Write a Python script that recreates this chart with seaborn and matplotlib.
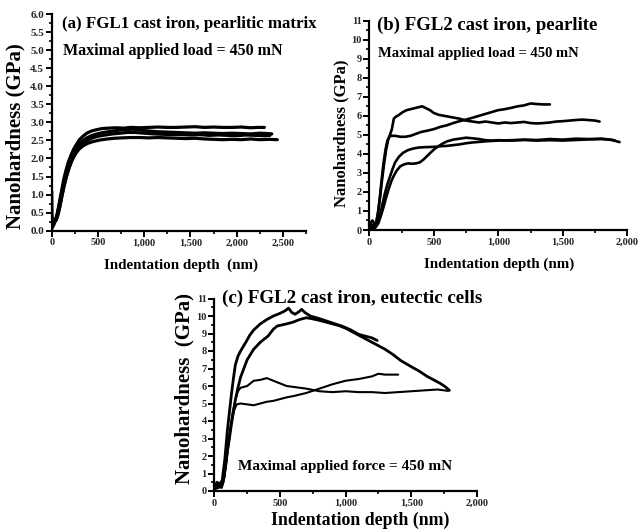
import matplotlib
matplotlib.use("Agg")
import matplotlib.pyplot as plt
import matplotlib.ticker as mticker
import seaborn as sns
import pandas as pd

# ---------------- data ----------------
# Panel (a): FGL1 cast iron, pearlitic matrix
a1_x = [0, 20, 40, 55, 70, 90, 110, 130, 155, 180, 210, 240, 270, 300, 340, 380, 430, 490, 550, 620, 700, 780, 860, 950, 1050, 1150, 1250, 1350, 1450, 1550, 1650, 1750, 1850, 1950, 2050, 2150, 2230, 2300]
a1_y = [0.05, 0.15, 0.3, 0.42, 0.6, 0.88, 1.15, 1.42, 1.68, 1.9, 2.1, 2.27, 2.4, 2.52, 2.62, 2.7, 2.76, 2.8, 2.83, 2.84, 2.85, 2.84, 2.86, 2.85, 2.86, 2.87, 2.86, 2.86, 2.87, 2.88, 2.86, 2.87, 2.86, 2.86, 2.87, 2.85, 2.86, 2.86]
a2_x = [0, 20, 40, 60, 80, 100, 125, 150, 180, 210, 240, 270, 300, 340, 380, 430, 490, 560, 640, 720, 800, 880, 950, 1050, 1150, 1250, 1350, 1450, 1550, 1650, 1750, 1850, 1950, 2050, 2150, 2250, 2330, 2380]
a2_y = [0.1, 0.18, 0.28, 0.45, 0.7, 0.95, 1.25, 1.52, 1.78, 2.0, 2.17, 2.3, 2.4, 2.5, 2.57, 2.63, 2.68, 2.72, 2.75, 2.78, 2.8, 2.81, 2.79, 2.76, 2.74, 2.73, 2.72, 2.71, 2.7, 2.71, 2.7, 2.69, 2.7, 2.69, 2.68, 2.7, 2.69, 2.68]
a3_x = [0, 25, 50, 70, 90, 110, 135, 160, 190, 220, 250, 280, 320, 360, 400, 450, 510, 580, 660, 740, 820, 900, 1000, 1100, 1200, 1300, 1400, 1500, 1600, 1700, 1800, 1900, 2000, 2100, 2200, 2300, 2360]
a3_y = [0.15, 0.22, 0.3, 0.45, 0.68, 0.95, 1.25, 1.5, 1.75, 1.95, 2.1, 2.22, 2.35, 2.45, 2.52, 2.58, 2.62, 2.65, 2.68, 2.7, 2.72, 2.72, 2.7, 2.68, 2.67, 2.66, 2.66, 2.65, 2.66, 2.64, 2.65, 2.64, 2.63, 2.65, 2.64, 2.63, 2.64]
a4_x = [0, 3, 10, 25, 45, 65, 85, 105, 125, 150, 175, 200, 230, 260, 300, 340, 390, 450, 520, 600, 680, 760, 850, 950, 1050, 1150, 1250, 1350, 1450, 1550, 1650, 1750, 1850, 1950, 2050, 2150, 2250, 2350, 2440]
a4_y = [1.1, 0.5, 0.15, 0.2, 0.3, 0.45, 0.65, 0.9, 1.15, 1.42, 1.65, 1.85, 2.02, 2.15, 2.27, 2.35, 2.42, 2.47, 2.51, 2.54, 2.56, 2.57, 2.58, 2.58, 2.57, 2.58, 2.57, 2.56, 2.55, 2.56, 2.54, 2.53, 2.52, 2.53, 2.52, 2.54, 2.52, 2.53, 2.52]

# Panel (b): FGL2 cast iron, pearlite
b1_x = [0, 10, 25, 40, 55, 70, 85, 100, 115, 130, 145, 160, 175, 190, 205, 230, 260, 290, 320, 350, 380, 410, 440, 470, 500, 540, 580, 620, 660, 700, 750, 800, 850, 900, 950, 1000, 1050, 1100, 1150, 1200, 1250, 1300, 1350, 1400, 1450, 1500, 1550, 1600, 1650, 1700, 1750, 1785]
b1_y = [0.1, 0.4, 0.5, 0.3, 0.4, 1.0, 1.8, 2.7, 3.5, 4.2, 4.7, 5.0, 5.3, 5.85, 5.95, 6.05, 6.2, 6.3, 6.35, 6.4, 6.45, 6.5, 6.4, 6.3, 6.15, 6.05, 6.0, 5.95, 5.9, 5.85, 5.75, 5.7, 5.65, 5.7, 5.65, 5.6, 5.65, 5.62, 5.65, 5.68, 5.62, 5.6, 5.62, 5.65, 5.7, 5.72, 5.75, 5.78, 5.8, 5.78, 5.75, 5.7]
b2_x = [0, 15, 30, 50, 65, 80, 95, 110, 125, 140, 155, 170, 200, 240, 280, 320, 360, 400, 450, 500, 550, 600, 650, 700, 750, 800, 850, 900, 950, 1000, 1050, 1100, 1150, 1200, 1250, 1300, 1350, 1400]
b2_y = [0.05, 0.3, 0.2, 0.3, 0.8, 1.6, 2.6, 3.5, 4.2, 4.7, 4.9, 4.95, 4.95, 4.9, 4.9, 4.95, 5.05, 5.15, 5.22, 5.3, 5.42, 5.5, 5.62, 5.72, 5.8, 5.9, 6.0, 6.1, 6.2, 6.3, 6.35, 6.42, 6.5, 6.55, 6.65, 6.62, 6.6, 6.6]
b3_x = [0, 20, 40, 60, 80, 100, 120, 140, 160, 180, 200, 230, 260, 300, 340, 380, 420, 460, 500, 550, 600, 650, 700, 750, 800, 850, 900, 1000, 1100, 1200, 1300, 1400, 1500, 1600, 1700, 1800, 1870, 1940]
b3_y = [0.1, 0.2, 0.1, 0.3, 0.7, 1.3, 1.9, 2.4, 2.8, 3.2, 3.55, 3.85, 4.05, 4.2, 4.28, 4.33, 4.35, 4.36, 4.37, 4.4, 4.42, 4.46, 4.5, 4.56, 4.6, 4.63, 4.66, 4.7, 4.72, 4.75, 4.73, 4.78, 4.75, 4.8, 4.78, 4.8, 4.75, 4.62]
b4_x = [0, 25, 50, 70, 90, 110, 130, 150, 170, 190, 210, 240, 270, 300, 330, 360, 390, 420, 450, 480, 510, 540, 570, 600, 650, 700, 750, 800, 850, 900, 950, 1000, 1100, 1200, 1300, 1400, 1500, 1600, 1700, 1800, 1900]
b4_y = [0.05, 0.1, 0.15, 0.35, 0.75, 1.2, 1.7, 2.15, 2.55, 2.85, 3.1, 3.35, 3.45, 3.5, 3.48, 3.5, 3.55, 3.7, 3.9, 4.1, 4.28, 4.42, 4.55, 4.65, 4.75, 4.8, 4.85, 4.82, 4.78, 4.72, 4.7, 4.72, 4.7, 4.73, 4.7, 4.72, 4.7, 4.73, 4.76, 4.78, 4.72]

# Panel (c): FGL2 cast iron, eutectic cells
c1_x = [0, 20, 40, 60, 80, 100, 115, 130, 145, 160, 180, 200, 240, 270, 300, 350, 400, 450, 500, 540, 565, 590, 615, 645, 665, 690, 730, 800, 860, 920, 980, 1040, 1100, 1150, 1200, 1240]
c1_y = [0.2, 0.5, 0.4, 0.6, 1.8, 3.5, 4.5, 5.5, 6.4, 7.2, 7.7, 8.0, 8.5, 8.9, 9.2, 9.55, 9.8, 10.0, 10.15, 10.3, 10.45, 10.2, 10.1, 10.25, 10.38, 10.2, 10.0, 9.85, 9.7, 9.55, 9.4, 9.2, 8.95, 8.85, 8.75, 8.6]
c2_x = [0, 30, 55, 75, 100, 115, 130, 145, 160, 180, 200, 225, 250, 300, 350, 410, 450, 480, 550, 600, 650, 700, 740, 800, 850, 900, 950, 1000, 1050, 1100, 1150, 1200, 1250, 1300, 1360, 1420, 1500, 1560, 1620, 1670, 1720, 1760, 1790]
c2_y = [0.1, 0.3, 0.2, 0.8, 2.3, 3.0, 3.8, 4.5, 5.2, 5.9, 6.5, 7.0, 7.5, 8.1, 8.5, 8.86, 9.25, 9.43, 9.55, 9.65, 9.8, 9.9, 9.85, 9.75, 9.65, 9.55, 9.45, 9.3, 9.1, 8.9, 8.7, 8.5, 8.3, 8.1, 7.8, 7.45, 7.1, 6.85, 6.55, 6.35, 6.15, 5.95, 5.75]
c3_x = [0, 30, 60, 80, 100, 120, 140, 160, 180, 200, 250, 300, 350, 400, 450, 500, 550, 600, 700, 800, 900, 1000, 1100, 1200, 1300, 1400, 1500, 1600, 1700, 1780]
c3_y = [0.1, 0.4, 0.3, 1.2, 2.3, 3.5, 4.5, 5.2, 5.7, 5.9, 6.0, 6.3, 6.35, 6.45, 6.3, 6.15, 6.0, 5.95, 5.85, 5.7, 5.65, 5.7, 5.65, 5.65, 5.6, 5.65, 5.7, 5.75, 5.8, 5.72]
c4_x = [0, 40, 70, 90, 110, 130, 150, 170, 200, 250, 300, 350, 400, 450, 500, 550, 600, 700, 800, 900, 1000, 1100, 1200, 1250, 1300, 1400]
c4_y = [0.1, 0.2, 0.5, 1.5, 2.8, 3.9, 4.6, 4.95, 5.0, 4.95, 4.9, 5.0, 5.1, 5.15, 5.25, 5.35, 5.42, 5.6, 5.85, 6.1, 6.3, 6.4, 6.55, 6.7, 6.65, 6.65]

a_xticks = [0, 500, 1000, 1500, 2000, 2500]
a_yticks = [0.0, 0.5, 1.0, 1.5, 2.0, 2.5, 3.0, 3.5, 4.0, 4.5, 5.0, 5.5, 6.0]
bc_xticks = [0, 500, 1000, 1500, 2000]
bc_yticks = [0, 1, 2, 3, 4, 5, 6, 7, 8, 9, 10, 11]

titles = ["(a) FGL1 cast iron, pearlitic matrix",
          "(b) FGL2 cast iron, pearlite",
          "(c) FGL2 cast iron, eutectic cells"]
subtitles = ["Maximal applied load = 450 mN",
             "Maximal applied load = 450 mN",
             "Maximal applied force = 450 mN"]


def to_frame(curves):
    rows = []
    for i, (xs, ys) in enumerate(curves):
        for x, y in zip(xs, ys):
            rows.append({"depth": x, "hardness": y, "curve": i})
    return pd.DataFrame(rows)


df_a = to_frame([(a1_x, a1_y), (a2_x, a2_y), (a3_x, a3_y), (a4_x, a4_y)])
df_b = to_frame([(b1_x, b1_y), (b2_x, b2_y), (b3_x, b3_y), (b4_x, b4_y)])
df_c_thick = to_frame([(c1_x, c1_y), (c2_x, c2_y)])
df_c_thin = to_frame([(c3_x, c3_y), (c4_x, c4_y)])

# ---------------- style ----------------
sns.set_theme(style="ticks")
plt.rcParams["font.family"] = ["Liberation Serif", "DejaVu Serif"]
plt.rcParams["font.weight"] = "bold"

W, H = 640, 531
fig = plt.figure(figsize=(W / 100, H / 100), dpi=100)
fig.patch.set_facecolor("white")


def fx(px):
    return px / W


def fy(py):
    return 1 - py / H


def make_axes(left, right, top, bottom):
    return fig.add_axes([fx(left), fy(bottom), (right - left) / W, (bottom - top) / H])


ax_a = make_axes(51.7, 306.0, 14.0, 230.7)
ax_b = make_axes(369.3, 627.3, 20.7, 230.0)
ax_c = make_axes(214.3, 477.0, 298.5, 491.0)

sns.lineplot(data=df_a, x="depth", y="hardness", units="curve", estimator=None,
             sort=False, color="black", lw=2.3, ax=ax_a)
sns.lineplot(data=df_b, x="depth", y="hardness", units="curve", estimator=None,
             sort=False, color="black", lw=1.9, ax=ax_b)
sns.lineplot(data=df_c_thick, x="depth", y="hardness", units="curve", estimator=None,
             sort=False, color="black", lw=2.0, ax=ax_c)
sns.lineplot(data=df_c_thin, x="depth", y="hardness", units="curve", estimator=None,
             sort=False, color="black", lw=1.5, ax=ax_c)

comma = mticker.FuncFormatter(lambda v, p: f"{v:,.0f}")

for ax in (ax_a, ax_b, ax_c):
    ax.set_facecolor("white")
    ax.set_xlabel("")
    ax.set_ylabel("")
    for s in ("top", "right"):
        ax.spines[s].set_visible(False)
    for s in ("left", "bottom"):
        ax.spines[s].set_linewidth(1.6)
        ax.spines[s].set_color("black")
    ax.tick_params(which="major", direction="out", length=4, width=1.4, color="black",
                   labelsize=7.5, pad=1.5)
    ax.tick_params(which="minor", direction="out", length=2.5, width=1.2, color="black")
    ax.xaxis.set_major_formatter(comma)
    ax.xaxis.set_minor_locator(mticker.MultipleLocator(250))

ax_a.set_xlim(0, 2750)
ax_a.set_ylim(0, 6)
ax_a.set_xticks(a_xticks)
ax_a.set_yticks(a_yticks)
ax_a.yaxis.set_major_formatter(mticker.FuncFormatter(lambda v, p: f"{v:.1f}"))
ax_a.yaxis.set_minor_locator(mticker.MultipleLocator(0.25))
ax_a.tick_params(axis="y", labelsize=8)

for ax in (ax_b, ax_c):
    ax.set_xlim(0, 2000)
    ax.set_ylim(0, 11)
    ax.set_xticks(bc_xticks)
    ax.set_yticks(bc_yticks)
    ax.yaxis.set_minor_locator(mticker.MultipleLocator(0.5))

for ax in (ax_a, ax_b, ax_c):
    for lab in ax.get_xticklabels() + ax.get_yticklabels():
        lab.set_fontweight("bold")

bold = dict(fontweight="bold", color="black")

# titles and annotations
fig.text(fx(61.7), fy(28.3), titles[0], fontsize=12.2, va="baseline", ha="left", **bold)
fig.text(fx(63.3), fy(55.0), subtitles[0], fontsize=11.5, va="baseline", ha="left", **bold)
fig.text(fx(376.7), fy(30.0), titles[1], fontsize=13.5, va="baseline", ha="left", **bold)
fig.text(fx(378.3), fy(56.7), subtitles[1], fontsize=10.5, va="baseline", ha="left", **bold)
fig.text(fx(221.7), fy(302.7), titles[2], fontsize=13.7, va="baseline", ha="left", **bold)
fig.text(fx(238.3), fy(470.0), subtitles[2], fontsize=11.0, va="baseline", ha="left", **bold)

# axis labels
fig.text(fx(15), fy(136), "Nanohardness (GPa)", fontsize=15, rotation=90,
         va="center", ha="center", **bold)
fig.text(fx(181), fy(265), "Indentation depth  (nm)", fontsize=10.8,
         va="center", ha="center", **bold)
fig.text(fx(341.5), fy(133.5), "Nanohardness (GPa)", fontsize=12, rotation=90,
         va="center", ha="center", **bold)
fig.text(fx(499), fy(264), "Indentation depth (nm)", fontsize=10.8,
         va="center", ha="center", **bold)
fig.text(fx(184), fy(388), "Nanohardness  (GPa)", fontsize=15, rotation=90,
         va="center", ha="center", **bold)
fig.text(fx(360), fy(520), "Indentation depth (nm)", fontsize=12.8,
         va="center", ha="center", **bold)

fig.savefig("out.png", dpi=100, facecolor="white")
